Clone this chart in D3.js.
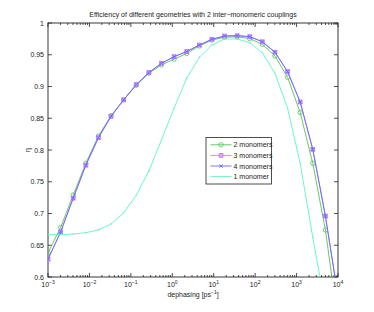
<!DOCTYPE html>
<html>
<head>
<meta charset="utf-8">
<script src="https://cdn.jsdelivr.net/npm/d3@7"></script>
<style>
body { margin: 0; background: #fff; }
text { font-family: "Liberation Sans", Arial, sans-serif; fill: #222; }
</style>
</head>
<body>
<svg id="chart"></svg>
<script>
// dephasing rates (ps^-1), 24 log-spaced points
let dephasing = [0.001, 0.002015, 0.004061, 0.008185, 0.0165, 0.03325, 0.0670, 0.1350,
  0.2721, 0.5484, 1.105, 2.227, 4.489, 9.048, 18.23, 36.75, 74.07, 149.3,
  300.9, 606.1, 1222, 2462, 4963, 10000]

let eff2 = [0.638, 0.678, 0.729, 0.779, 0.822, 0.854, 0.879, 0.902, 0.921, 0.934, 0.943, 0.952,
  0.9638, 0.9732, 0.9775, 0.9785, 0.9753, 0.9664, 0.948, 0.9145, 0.859, 0.779, 0.674, 0.53]
let eff3 = [0.628, 0.671, 0.724, 0.776, 0.8195, 0.853, 0.879, 0.903, 0.922, 0.9365, 0.947, 0.955,
  0.9653, 0.9743, 0.9795, 0.980, 0.9785, 0.9705, 0.954, 0.9235, 0.8756, 0.801, 0.696, 0.57]
let eff4 = [0.628, 0.671, 0.724, 0.776, 0.8195, 0.853, 0.879, 0.903, 0.922, 0.9365, 0.947, 0.955,
  0.9653, 0.9743, 0.9795, 0.980, 0.9785, 0.9705, 0.954, 0.9235, 0.8756, 0.801, 0.696, 0.57]
let eff1 = [0.6667, 0.6667, 0.6677, 0.6698, 0.674, 0.6835, 0.701, 0.729, 0.767, 0.816, 0.866, 0.913,
  0.946, 0.9653, 0.9748, 0.9748, 0.969, 0.953, 0.9208, 0.866, 0.779, 0.662, 0.553, 0.44]

let seriesNames = ['2 monomers', '3 monomers', '4 monomers', '1 monomer']
let yTicks = [0.6, 0.65, 0.7, 0.75, 0.8, 0.85, 0.9, 0.95, 1]
let xTickExps = [-3, -2, -1, 0, 1, 2, 3, 4]

let series = [
  {name: seriesNames[0], values: eff2, color: '#52c452', marker: 'circle'},
  {name: seriesNames[1], values: eff3, color: '#c77dff', marker: 'square'},
  {name: seriesNames[2], values: eff4, color: '#6666ff', marker: 'x'},
  {name: seriesNames[3], values: eff1, color: '#5cf5c0', marker: 'dot'},
]

let W = 374, H = 312
let m = {top: 23, right: 36, bottom: 35, left: 48}
let svg = d3.select('#chart').attr('width', W).attr('height', H)

let x = d3.scaleLog().domain([1e-3, 1e4]).range([m.left, W - m.right])
let y = d3.scaleLinear().domain([0.6, 1]).range([H - m.bottom, m.top])

svg.append('clipPath').attr('id', 'clip')
  .append('rect')
  .attr('x', m.left).attr('y', m.top)
  .attr('width', W - m.left - m.right).attr('height', H - m.top - m.bottom)

// ticks (inside, on all four sides)
let ax = svg.append('g').attr('stroke', '#222').attr('stroke-width', 0.8)
let minor = x.ticks().filter(v => Math.abs(Math.log10(v) - Math.round(Math.log10(v))) > 1e-6)
minor.forEach(v => {
  ax.append('line').attr('x1', x(v)).attr('x2', x(v)).attr('y1', y(0.6)).attr('y2', y(0.6) - 2)
  ax.append('line').attr('x1', x(v)).attr('x2', x(v)).attr('y1', y(1)).attr('y2', y(1) + 2)
})
xTickExps.forEach(e => {
  let v = Math.pow(10, e)
  ax.append('line').attr('x1', x(v)).attr('x2', x(v)).attr('y1', y(0.6)).attr('y2', y(0.6) - 4)
  ax.append('line').attr('x1', x(v)).attr('x2', x(v)).attr('y1', y(1)).attr('y2', y(1) + 4)
})
yTicks.forEach(t => {
  ax.append('line').attr('x1', m.left).attr('x2', m.left + 4).attr('y1', y(t)).attr('y2', y(t))
  ax.append('line').attr('x1', W - m.right).attr('x2', W - m.right - 4).attr('y1', y(t)).attr('y2', y(t))
})
svg.append('rect')
  .attr('x', m.left).attr('y', m.top)
  .attr('width', W - m.left - m.right).attr('height', H - m.top - m.bottom)
  .attr('fill', 'none').attr('stroke', '#222').attr('stroke-width', 0.9)

// tick labels
svg.append('g').selectAll('text').data(yTicks).enter().append('text')
  .attr('x', m.left - 4).attr('y', d => y(d) + 2.5)
  .attr('text-anchor', 'end').attr('font-size', 7)
  .text(d => d === 1 ? '1' : d3.format('')(d))

let xl = svg.append('g').selectAll('text').data(xTickExps).enter().append('text')
  .attr('x', d => x(Math.pow(10, d))).attr('y', H - m.bottom + 10)
  .attr('text-anchor', 'middle').attr('font-size', 7)
xl.append('tspan').text('10')
xl.append('tspan').attr('font-size', 5).attr('dy', -3).text(d => d < 0 ? '\u2212' + (-d) : d)

// lines and markers
let line = d3.line().x((d, i) => x(dephasing[i])).y(d => y(d))
let plot = svg.append('g').attr('clip-path', 'url(#clip)')

function drawMarker(g, type, cx, cy, color) {
  if (type === 'circle') {
    g.append('circle').attr('cx', cx).attr('cy', cy).attr('r', 2.2)
      .attr('fill', 'none').attr('stroke', color).attr('stroke-width', 0.8)
  } else if (type === 'square') {
    g.append('rect').attr('x', cx - 1.9).attr('y', cy - 1.9).attr('width', 3.8).attr('height', 3.8)
      .attr('fill', '#d6a8ff').attr('stroke', color).attr('stroke-width', 0.9)
  } else if (type === 'x') {
    g.append('path').attr('d', `M${cx - 1.7},${cy - 1.7}L${cx + 1.7},${cy + 1.7}M${cx - 1.7},${cy + 1.7}L${cx + 1.7},${cy - 1.7}`)
      .attr('stroke', color).attr('stroke-width', 0.9)
  } else {
    g.append('circle').attr('cx', cx).attr('cy', cy).attr('r', 0.7).attr('fill', color)
  }
}

series.forEach(s => {
  let g = plot.append('g')
  g.append('path').datum(s.values).attr('d', line)
    .attr('fill', 'none').attr('stroke', s.color).attr('stroke-width', 0.9)
  s.values.forEach((v, i) => drawMarker(g, s.marker, x(dephasing[i]), y(v), s.color))
})

// legend
let lg = svg.append('g')
lg.append('rect').attr('x', 206).attr('y', 137.5).attr('width', 65.5).attr('height', 46.5)
  .attr('fill', '#fff').attr('stroke', '#222').attr('stroke-width', 0.8)
series.forEach((s, i) => {
  let ly = 144.8 + i * 10.6
  lg.append('line').attr('x1', 210.5).attr('x2', 231.5).attr('y1', ly).attr('y2', ly)
    .attr('stroke', s.color).attr('stroke-width', 0.9)
  drawMarker(lg, s.marker, 221, ly, s.color)
  lg.append('text').attr('x', 233.5).attr('y', ly + 2.5).attr('font-size', 7).text(s.name)
})

// titles
svg.append('text').attr('x', 193).attr('y', 17).attr('text-anchor', 'middle').attr('font-size', 7)
  .text('Efficiency of different geometries with 2 inter\u2212monomeric couplings')
let xt = svg.append('text').attr('x', 193).attr('y', 297).attr('text-anchor', 'middle').attr('font-size', 7)
xt.append('tspan').text('dephasing [ps')
xt.append('tspan').attr('font-size', 5).attr('dy', -3).text('\u22121')
xt.append('tspan').attr('dy', 3).text(']')
svg.append('text').attr('transform', 'translate(30,150) rotate(-90)')
  .attr('text-anchor', 'middle').attr('font-size', 7).text('\u03b7')
</script>
</body>
</html>
